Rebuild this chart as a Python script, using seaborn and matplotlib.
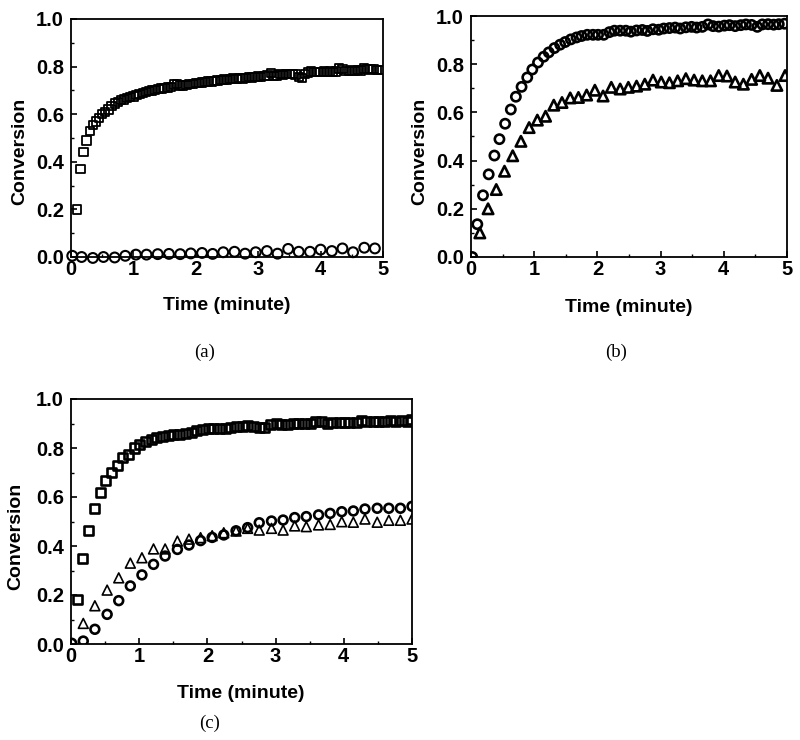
import matplotlib
matplotlib.use("Agg")
import matplotlib.pyplot as plt
from matplotlib.ticker import MultipleLocator
import seaborn as sns
import pandas as pd

# ---------------- data ----------------
# panel (a)
a_sq_t = [0.10,0.15,0.20,0.25,0.30,0.35,0.40,0.45,0.50,0.55,
          0.60,0.65,0.70,0.75,0.80,0.85,0.90,0.95,1.00,1.05,
          1.10,1.15,1.20,1.25,1.30,1.35,1.40,1.45,1.50,1.55,
          1.60,1.65,1.70,1.75,1.80,1.85,1.90,1.95,2.00,2.05,
          2.10,2.15,2.20,2.25,2.30,2.35,2.40,2.45,2.50,2.55,
          2.60,2.65,2.70,2.75,2.80,2.85,2.90,2.95,3.00,3.05,
          3.10,3.15,3.20,3.25,3.30,3.35,3.40,3.45,3.50,3.55,
          3.60,3.65,3.70,3.75,3.80,3.85,3.90,3.95,4.00,4.05,
          4.10,4.15,4.20,4.25,4.30,4.35,4.40,4.45,4.50,4.55,
          4.60,4.65,4.70,4.75,4.80,4.85,4.90,4.95]
a_sq_v = [0.20,0.37,0.44,0.49,0.53,0.555,0.57,0.585,0.60,0.61,
          0.62,0.635,0.645,0.65,0.66,0.662,0.668,0.672,0.675,0.68,
          0.685,0.69,0.693,0.697,0.70,0.703,0.705,0.708,0.71,0.712,
          0.715,0.725,0.728,0.72,0.721,0.723,0.726,0.728,0.73,0.732,
          0.733,0.735,0.737,0.738,0.74,0.742,0.744,0.746,0.745,0.748,
          0.75,0.749,0.752,0.75,0.753,0.755,0.754,0.757,0.758,0.756,
          0.76,0.762,0.772,0.76,0.762,0.768,0.766,0.77,0.768,0.77,
          0.767,0.755,0.752,0.768,0.775,0.78,0.776,0.778,0.777,0.78,
          0.776,0.779,0.777,0.78,0.792,0.79,0.782,0.781,0.783,0.782,
          0.785,0.784,0.792,0.79,0.788,0.79,0.786,0.785]
a_ci_t = [0.02,0.17,0.35,0.52,0.70,0.87,1.04,1.21,1.39,1.57,
          1.75,1.92,2.10,2.27,2.44,2.62,2.79,2.96,3.14,3.31,
          3.48,3.65,3.83,4.00,4.18,4.35,4.52,4.70,4.87]
a_ci_v = [0.005,0.0,-0.004,0.0,-0.002,0.005,0.01,0.01,0.012,0.013,
          0.012,0.015,0.017,0.013,0.02,0.022,0.014,0.02,0.025,0.014,
          0.034,0.022,0.022,0.031,0.025,0.036,0.02,0.039,0.036]

# panel (b)
b_ci_t = [0.02,0.10,0.19,0.28,0.37,0.45,0.54,0.63,0.71,0.80,
          0.89,0.97,1.06,1.15,1.23,1.32,1.41,1.49,1.58,1.67,
          1.75,1.84,1.93,2.01,2.10,2.19,2.27,2.36,2.45,2.53,
          2.62,2.71,2.79,2.88,2.97,3.05,3.14,3.23,3.31,3.40,
          3.49,3.57,3.66,3.75,3.83,3.92,4.01,4.09,4.18,4.27,
          4.35,4.44,4.53,4.61,4.70,4.79,4.87,4.96]
b_ci_v = [0.0,0.136,0.256,0.343,0.421,0.489,0.553,0.612,0.665,0.706,
          0.745,0.778,0.807,0.831,0.849,0.867,0.881,0.892,0.903,0.911,
          0.917,0.922,0.922,0.922,0.922,0.933,0.939,0.939,0.939,0.935,
          0.94,0.942,0.938,0.945,0.943,0.948,0.95,0.952,0.948,0.953,
          0.955,0.952,0.955,0.965,0.958,0.956,0.96,0.962,0.958,0.962,
          0.965,0.963,0.955,0.965,0.966,0.964,0.966,0.968]
b_tr_t = [0.14,0.27,0.40,0.53,0.66,0.79,0.92,1.05,1.18,1.31,
          1.44,1.57,1.70,1.83,1.96,2.09,2.22,2.36,2.49,2.62,
          2.75,2.88,3.01,3.14,3.27,3.40,3.53,3.66,3.79,3.92,
          4.05,4.18,4.31,4.44,4.57,4.70,4.84,4.97]
b_tr_v = [0.10,0.20,0.28,0.356,0.42,0.48,0.537,0.568,0.584,0.63,
          0.641,0.66,0.662,0.672,0.692,0.668,0.704,0.697,0.704,0.709,
          0.717,0.734,0.726,0.723,0.731,0.740,0.734,0.731,0.731,0.753,
          0.751,0.726,0.717,0.737,0.753,0.742,0.712,0.753]

# panel (c)
c_sq_t = [0.09,0.17,0.26,0.34,0.43,0.51,0.59,0.68,0.76,0.84,
          0.93,1.01,1.09,1.18,1.26,1.34,1.43,1.51,1.59,1.68,
          1.76,1.84,1.93,2.01,2.09,2.18,2.26,2.34,2.43,2.51,
          2.59,2.68,2.76,2.84,2.93,3.01,3.09,3.18,3.26,3.34,
          3.43,3.51,3.59,3.68,3.76,3.84,3.93,4.01,4.09,4.18,
          4.26,4.34,4.43,4.51,4.59,4.68,4.76,4.84,4.93,5.00]
c_sq_v = [0.18,0.35,0.464,0.554,0.618,0.667,0.70,0.73,0.76,0.774,
          0.80,0.815,0.826,0.833,0.842,0.848,0.853,0.856,0.856,0.86,
          0.864,0.871,0.875,0.878,0.878,0.88,0.88,0.883,0.886,0.887,
          0.891,0.888,0.883,0.885,0.894,0.902,0.897,0.897,0.899,0.90,
          0.901,0.902,0.91,0.907,0.898,0.904,0.905,0.905,0.905,0.905,
          0.913,0.91,0.907,0.907,0.91,0.913,0.91,0.913,0.908,0.918]
c_ci_t = [0.01,0.18,0.35,0.53,0.70,0.87,1.04,1.21,1.38,1.56,
          1.73,1.90,2.07,2.24,2.42,2.59,2.76,2.94,3.11,3.28,
          3.45,3.63,3.80,3.97,4.14,4.31,4.49,4.66,4.83,5.00]
c_ci_v = [0.003,0.012,0.06,0.121,0.177,0.237,0.282,0.325,0.359,0.386,
          0.404,0.422,0.435,0.445,0.462,0.475,0.495,0.502,0.506,0.516,
          0.52,0.527,0.533,0.54,0.543,0.551,0.554,0.554,0.554,0.562]
c_tr_t = [0.18,0.35,0.53,0.70,0.87,1.04,1.21,1.38,1.56,
          1.73,1.90,2.07,2.24,2.42,2.59,2.76,2.94,3.11,3.28,
          3.45,3.63,3.80,3.97,4.14,4.31,4.49,4.66,4.83,5.00]
c_tr_v = [0.084,0.156,0.22,0.27,0.33,0.352,0.388,0.388,0.42,
          0.428,0.434,0.442,0.454,0.461,0.472,0.465,0.472,0.465,0.482,
          0.479,0.486,0.488,0.499,0.497,0.51,0.497,0.505,0.505,0.51]

x_ticks = [0, 1, 2, 3, 4, 5]
y_ticks = [0.0, 0.2, 0.4, 0.6, 0.8, 1.0]
captions = ["(a)", "(b)", "(c)"]

# ---------------- style ----------------
sns.set_theme(style="ticks")
plt.rcParams["font.family"] = ["Liberation Sans", "DejaVu Sans"]
plt.rcParams["font.weight"] = "bold"
plt.rcParams["axes.labelweight"] = "bold"
plt.rcParams["axes.linewidth"] = 1.3
plt.rcParams["xtick.direction"] = "in"
plt.rcParams["ytick.direction"] = "in"

fig = plt.figure(figsize=(8, 7.4), dpi=100)
W, H = 800, 740


def add_ax(l, t, r, b):
    return fig.add_axes([l / W, 1 - b / H, (r - l) / W, (b - t) / H])


ax_a = add_ax(71, 19, 383, 257)
ax_b = add_ax(471, 16, 787, 257)
ax_c = add_ax(71, 399, 412, 644)


def scat(ax, t, v, marker, s, lw, clip=True):
    df = pd.DataFrame({"t": t, "v": v})
    sns.scatterplot(data=df, x="t", y="v", ax=ax, marker=marker, s=s,
                    facecolor="none", edgecolor="black", linewidth=lw,
                    clip_on=clip, zorder=3, legend=False)


scat(ax_a, a_sq_t, a_sq_v, "s", 36, 1.3)
scat(ax_a, a_ci_t, a_ci_v, "o", 50, 1.5, clip=False)

scat(ax_b, b_ci_t, b_ci_v, "o", 44, 1.9)
scat(ax_b, b_tr_t, b_tr_v, "^", 56, 1.9)

scat(ax_c, c_sq_t, c_sq_v, "s", 42, 1.9)
scat(ax_c, c_ci_t, c_ci_v, "o", 40, 1.9)
scat(ax_c, c_tr_t, c_tr_v, "^", 50, 1.2)

for ax in (ax_a, ax_b, ax_c):
    ax.set_xlim(0, 5)
    ax.set_ylim(0, 1.0)
    ax.set_xticks(x_ticks)
    ax.set_yticks(y_ticks)
    ax.set_xticklabels([str(x) for x in x_ticks])
    ax.set_yticklabels([f"{y:.1f}" for y in y_ticks])
    ax.xaxis.set_minor_locator(MultipleLocator(0.5))
    ax.yaxis.set_minor_locator(MultipleLocator(0.1))
    ax.tick_params(which="major", length=4, width=1.2, labelsize=14.5,
                   color="black", labelcolor="black")
    ax.tick_params(axis="x", which="major", pad=2)
    ax.tick_params(axis="y", which="major", pad=5)
    ax.tick_params(which="minor", length=2.5, width=1.0, color="black")
    for lab in ax.get_xticklabels() + ax.get_yticklabels():
        lab.set_fontweight("bold")
    for sp in ax.spines.values():
        sp.set_visible(True)
        sp.set_color("black")
        sp.set_linewidth(1.3)
    ax.set_xlabel("")
    ax.set_ylabel("")

# axis labels and captions placed in pixel coordinates
def ftext(x, y, s, **kw):
    fig.text(x / W, 1 - y / H, s, ha="center", va="center", **kw)

lab_kw = dict(fontsize=14, fontweight="bold", color="black")
ftext(227, 305, "Time (minute)", **lab_kw)
ftext(629, 307, "Time (minute)", **lab_kw)
ftext(241, 694, "Time (minute)", **lab_kw)
ftext(20, 151, "Conversion", rotation=90, **lab_kw)
ftext(420, 151, "Conversion", rotation=90, **lab_kw)
ftext(16, 536, "Conversion", rotation=90, **lab_kw)

cap_kw = dict(fontsize=13.5, color="black", family=["Liberation Serif", "DejaVu Serif"],
              fontweight="normal")
ftext(205, 352, captions[0], **cap_kw)
ftext(616, 352, captions[1], **cap_kw)
ftext(210, 723, captions[2], **cap_kw)

fig.savefig("out.png", dpi=100, facecolor="white")
